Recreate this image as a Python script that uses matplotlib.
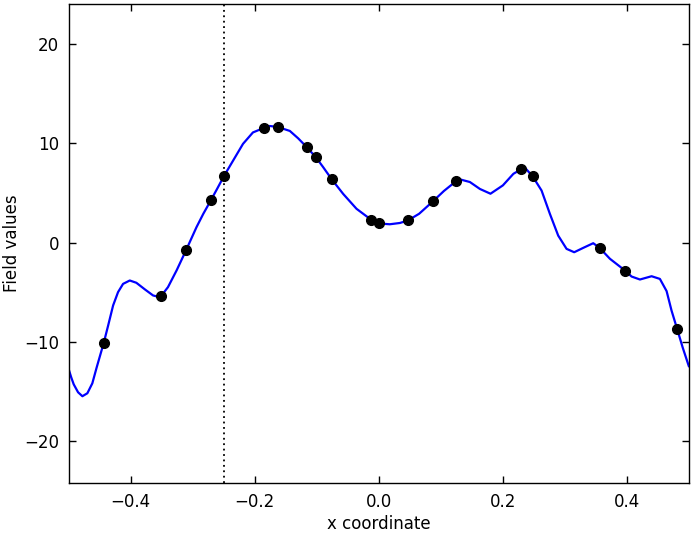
import matplotlib
matplotlib.use("Agg")
import matplotlib.pyplot as plt

# smooth field curve
curve_x = [
    -0.500, -0.496, -0.492, -0.485, -0.478, -0.470, -0.462, -0.455, -0.4435,
    -0.4366, -0.4285, -0.4205, -0.4124, -0.4016, -0.391, -0.377, -0.364,
    -0.357, -0.3516, -0.340, -0.326, -0.311, -0.294, -0.283,
    -0.271, -0.260, -0.250, -0.235, -0.219, -0.203, -0.1855, -0.176, -0.163,
    -0.1435, -0.130, -0.116, -0.1016, -0.0898, -0.0758, -0.0575, -0.036,
    -0.0129, 0.0, 0.0177, 0.034, 0.0468, 0.065, 0.087, 0.105, 0.124, 0.133,
    0.1468, 0.163, 0.180, 0.200, 0.217, 0.229, 0.2355, 0.248, 0.2624, 0.2758,
    0.2892, 0.3027, 0.315, 0.3296, 0.3457, 0.356, 0.3726, 0.397, 0.4075,
    0.421, 0.4398, 0.4532, 0.464, 0.472, 0.481, 0.490, 0.500,
]
curve_y = [
    -12.8, -13.6, -14.3, -15.1, -15.5, -15.2, -14.2, -12.6, -10.1,
    -8.4, -6.35, -5.0, -4.17, -3.83, -4.06, -4.74, -5.34,
    -5.45, -5.44, -4.5, -2.8, -0.8, 1.55, 2.9,
    4.24, 5.5, 6.67, 8.26, 9.95, 11.1, 11.55, 11.75, 11.65,
    11.25, 10.5, 9.6, 8.6, 7.6, 6.36, 4.9, 3.4,
    2.32, 1.92, 1.84, 1.97, 2.22, 2.9, 4.14, 5.2, 6.16, 6.33,
    6.1, 5.4, 4.92, 5.76, 6.93, 7.37, 7.55, 6.67, 5.24, 2.89,
    0.7, -0.64, -0.98, -0.54, -0.07, -0.54, -1.64, -2.83, -3.43,
    -3.73, -3.4, -3.67, -4.9, -6.87, -8.72, -10.6, -12.5,
]

# observed samples
obs_x = [
    -0.4435, -0.3516, -0.311, -0.271, -0.250, -0.1855, -0.163, -0.116,
    -0.1016, -0.0758, -0.0129, 0.0, 0.0468, 0.087, 0.124, 0.229, 0.248,
    0.356, 0.397, 0.481,
]
obs_y = [
    -10.1, -5.44, -0.8, 4.24, 6.67, 11.5, 11.6, 9.6,
    8.6, 6.36, 2.32, 1.92, 2.22, 4.14, 6.16, 7.37, 6.67,
    -0.54, -2.83, -8.72,
]

marker_x = -0.25

plt.rcParams["font.family"] = ["DejaVu Sans"]
plt.rcParams["font.size"] = 12

fig = plt.figure(figsize=(6.91, 5.34), dpi=100)
ax = fig.add_axes([0.0995, 0.0955, 0.8975, 0.897])

ax.plot(curve_x, curve_y, color="blue", linewidth=1.6,
        solid_joinstyle="round", solid_capstyle="round")
ax.plot(obs_x, obs_y, "o", color="black", markersize=7)
ax.axvline(marker_x, color="black", linestyle=(0, (1, 2)), linewidth=1.3)

ax.set_xlim(-0.5, 0.5)
ax.set_ylim(-24.25, 24.05)
ax.set_xticks([-0.4, -0.2, 0.0, 0.2, 0.4])
ax.set_yticks([-20, -10, 0, 10, 20])
ax.tick_params(direction="in", top=True, right=True, length=5, width=1,
               labelsize=12, pad=7)
for s in ax.spines.values():
    s.set_linewidth(1.0)

ax.set_xlabel("x coordinate", fontsize=12, labelpad=3)
ax.set_ylabel("Field values", fontsize=12, labelpad=2)

fig.savefig("out.png", dpi=100)
